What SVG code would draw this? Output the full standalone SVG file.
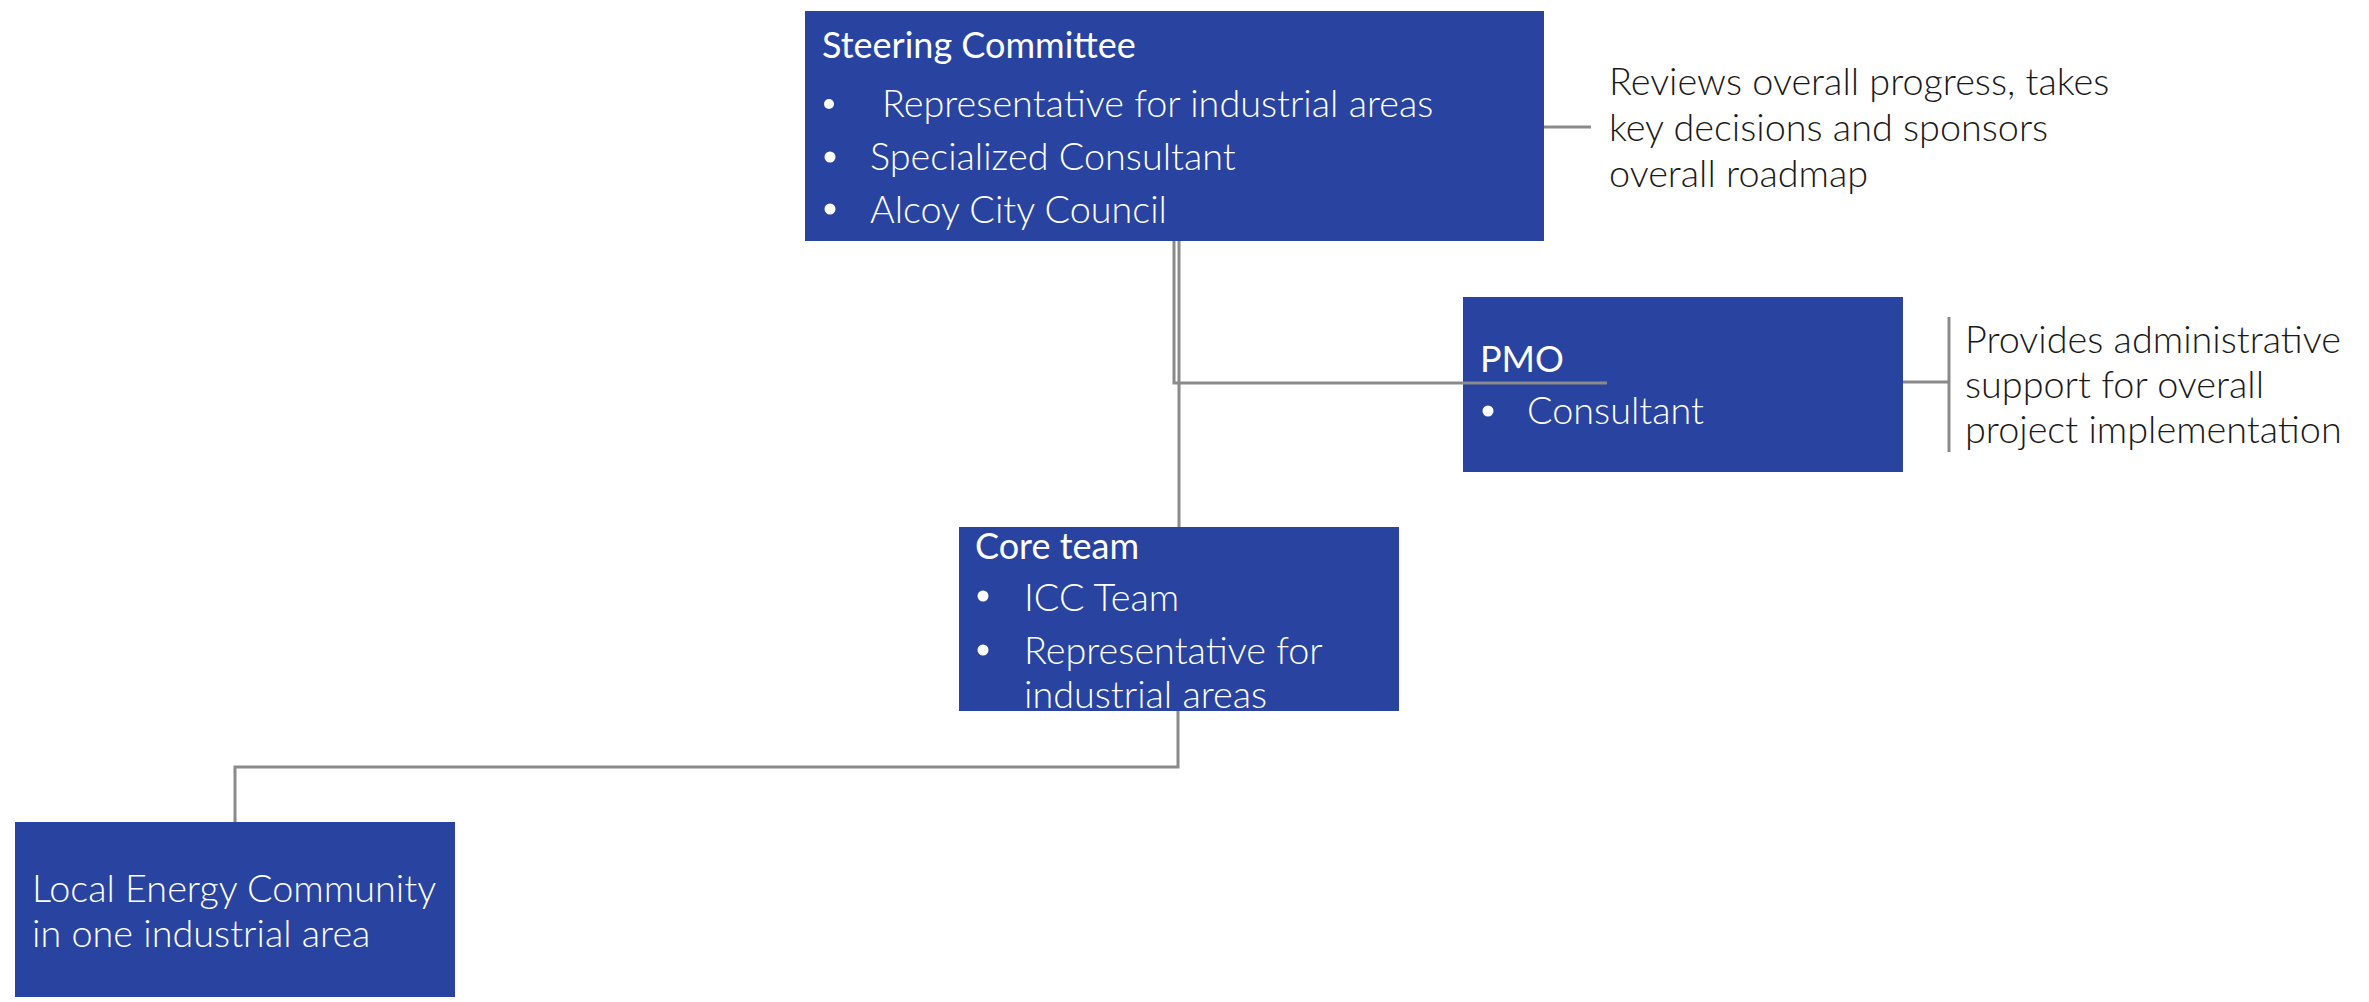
<svg xmlns="http://www.w3.org/2000/svg" width="2369" height="1002" viewBox="0 0 2369 1002">
<style>
.box{fill:#2944A0}
.title{font-family:Lato,"Liberation Sans",sans-serif;font-size:36px;font-weight:400;fill:#FFFFFF}
.item{font-family:Lato,"Liberation Sans",sans-serif;font-size:37.8px;font-weight:300;fill:#FFFFFF}
.desc{font-family:Lato,"Liberation Sans",sans-serif;font-size:37.8px;font-weight:300;fill:#1A1A1A}
.bullet{fill:#FFFFFF}
.conn{fill:none;stroke:#8A8A8A;stroke-width:3}
</style>
<rect width="2369" height="1002" fill="#FFFFFF"/>
<g id="steering-committee">
<rect class="box" x="805" y="11" width="739" height="230"/>
<text class="title" x="822" y="58">Steering Committee</text>
<circle class="bullet" cx="829" cy="104" r="5"/>
<text class="item" x="882" y="117">Representative for industrial areas</text>
<circle class="bullet" cx="830" cy="157" r="5.5"/>
<text class="item" x="870" y="170">Specialized Consultant</text>
<circle class="bullet" cx="830" cy="209" r="5.5"/>
<text class="item" x="870" y="223">Alcoy City Council</text>
</g>
<g id="steering-note">
<text class="desc" x="1609" y="95">Reviews overall progress, takes</text>
<text class="desc" x="1609" y="141">key decisions and sponsors</text>
<text class="desc" x="1609" y="187">overall roadmap</text>
</g>
<g id="pmo">
<rect class="box" x="1463" y="297" width="440" height="175"/>
<text class="title" x="1480" y="372">PMO</text>
<circle class="bullet" cx="1488" cy="411" r="5.5"/>
<text class="item" x="1527" y="424">Consultant</text>
</g>
<g id="pmo-note">
<text class="desc" x="1965" y="353">Provides administrative</text>
<text class="desc" x="1965" y="398">support for overall</text>
<text class="desc" x="1965" y="443">project implementation</text>
</g>
<g id="core-team">
<rect class="box" x="959" y="527" width="440" height="184"/>
<text class="title" x="975" y="559">Core team</text>
<circle class="bullet" cx="983" cy="596" r="5.5"/>
<text class="item" x="1024" y="611">ICC Team</text>
<circle class="bullet" cx="983" cy="650" r="5.5"/>
<text class="item" x="1024" y="664">Representative for</text>
<text class="item" x="1024" y="708">industrial areas</text>
</g>
<g id="local-energy-community">
<rect class="box" x="15" y="822" width="440" height="175"/>
<text class="item" x="32" y="902">Local Energy Community</text>
<text class="item" x="32" y="947">in one industrial area</text>
</g>
<g id="connectors">
<polyline class="conn" points="1174,241 1174,383 1607,383"/>
<polyline class="conn" points="1179,241 1179,527"/>
<polyline class="conn" points="1178,711 1178,767 235,767 235,822"/>
<line class="conn" x1="1544" y1="127" x2="1591" y2="127"/>
<line class="conn" x1="1903" y1="382" x2="1949" y2="382"/>
<line class="conn" x1="1949" y1="317" x2="1949" y2="452"/>
</g>
</svg>
